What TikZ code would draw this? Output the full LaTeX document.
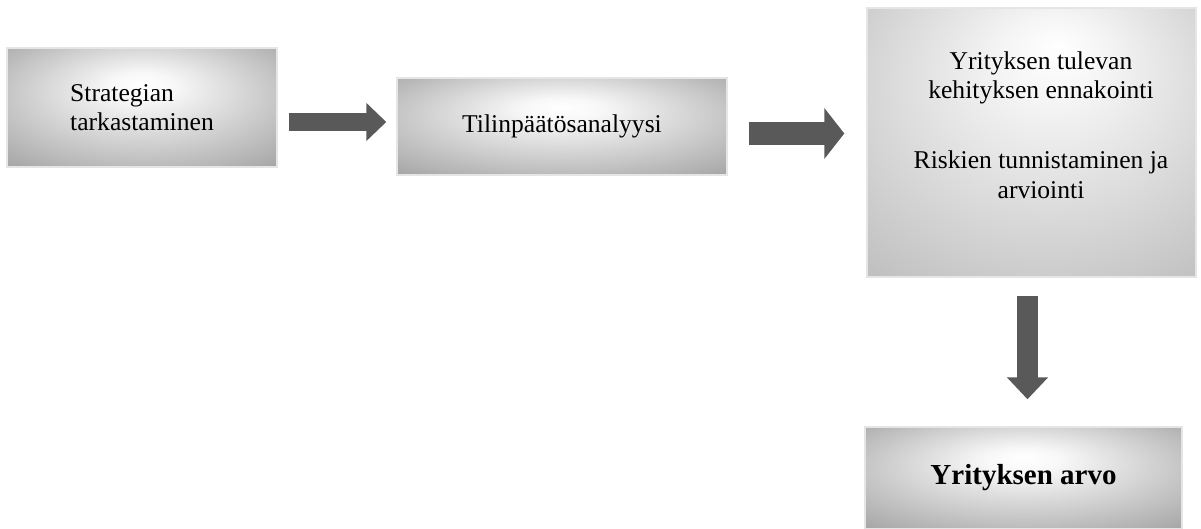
\documentclass[tikz,border=0pt]{standalone}
\usepackage{fontspec}
\setmainfont{Liberation Serif}
\usetikzlibrary{arrows.meta,positioning,calc}
\definecolor{ArrowGray}{HTML}{595959}
\pgfdeclareradialshading{boxglow}{\pgfpoint{0bp}{10bp}}{color(0bp)=(white); color(6bp)=(white!97!black); color(36bp)=(black!34); color(50bp)=(black!34)}
\pgfdeclareradialshading{tallglow}{\pgfpoint{4bp}{18bp}}{color(0bp)=(white); color(8bp)=(white!96!black); color(45bp)=(black!28); color(60bp)=(black!28)}

\begin{document}
\begin{tikzpicture}[x=.5pt,y=.5pt,
    stagebox/.style={shading=boxglow,draw=black!10,line width=.7pt,inner sep=0pt,font=\fontsize{12.8pt}{14.8pt}\selectfont},
    fatarrow/.style n args={3}{draw=ArrowGray,line width=#1,-{Triangle[width=#2,length=#3]}}]
    \useasboundingbox (0,0) rectangle (1201,529);
    \node[stagebox,minimum width=135pt,minimum height=59.5pt,align=left] (strat) at (142,421.5) {Strategian\\tarkastaminen};
    \node[stagebox,minimum width=165pt,minimum height=48.5pt] (tilin) at (562,402.5) {Tilinpäätösanalyysi};
    \node[stagebox,shading=tallglow,minimum width=164.5pt,minimum height=134.5pt] (ennak) at (1031.5,386.5) {};
    \node[font=\fontsize{12.8pt}{14.8pt}\selectfont,align=center] (ennaktxt) at (1041,404) {Yrityksen tulevan\\kehityksen ennakointi\\[20pt]Riskien tunnistaminen ja\\arviointi};
    \node[stagebox,minimum width=158.5pt,minimum height=51pt,font=\fontsize{14.5pt}{16pt}\selectfont\bfseries] (arvo) at (1023.5,51) {Yrityksen arvo};
    % block arrows
    \draw[fatarrow={9pt}{18.5pt}{10pt},shorten <=5.5pt,shorten >=5pt] (strat.east |- 0,407) -- (tilin.west |- 0,407);
    \draw[fatarrow={11.5pt}{25pt}{10pt},shorten <=10.5pt,shorten >=11pt] (tilin.east |- 0,395.5) -- (ennak.west |- 0,395.5);
    \draw[fatarrow={10.5pt}{20pt}{11pt},shorten <=9pt,shorten >=13.5pt] (ennak.south -| 1027.5,0) -- (arvo.north -| 1027.5,0);
\end{tikzpicture}
\end{document}
